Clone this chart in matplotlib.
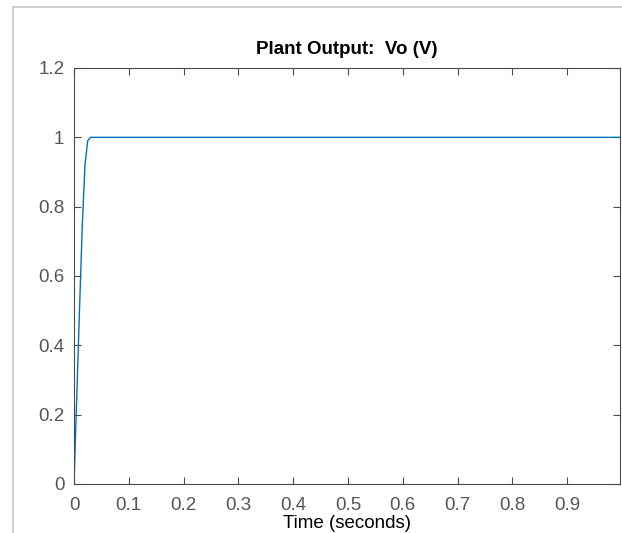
import numpy as np
import matplotlib
matplotlib.use('Agg')
import matplotlib.pyplot as plt
from matplotlib.lines import Line2D

# step response samples (time in s, output in V)
t = [0, 0.005, 0.010, 0.015, 0.020, 0.025, 0.030, 1.0]
vo = [0, 0.25, 0.50, 0.74, 0.92, 0.99, 1.0, 1.0]

xticks = [0, 0.1, 0.2, 0.3, 0.4, 0.5, 0.6, 0.7, 0.8, 0.9]
xticklabels = ['0', '0.1', '0.2', '0.3', '0.4', '0.5', '0.6', '0.7', '0.8', '0.9']
yticks = [0, 0.2, 0.4, 0.6, 0.8, 1, 1.2]
yticklabels = ['0', '0.2', '0.4', '0.6', '0.8', '1', '1.2']

plt.rcParams['font.family'] = ['Liberation Sans', 'DejaVu Sans']

fig = plt.figure(figsize=(6.22, 5.33), dpi=100)
ax = fig.add_axes([74/622, 49/533, 546/622, 416/533])

ax.plot(t, vo, color='#0072BD', lw=1.0)

ax.set_xlim(0, 0.9964)
ax.set_ylim(0, 1.2)
ax.set_xticks(xticks)
ax.set_xticklabels(xticklabels)
ax.set_yticks(yticks)
ax.set_yticklabels(yticklabels)

axcol = '#4a4a4a'
for s in ax.spines.values():
    s.set_color(axcol)
    s.set_linewidth(0.8)
ax.tick_params(direction='in', length=5, width=0.8, color=axcol,
               labelcolor='#555555', labelsize=13.5,
               top=True, right=True)
ax.tick_params(axis='x', pad=9)
ax.tick_params(axis='y', pad=7)

ax.set_title('Plant Output:  Vo (V)', fontsize=13.5, fontweight='bold', pad=10)
ax.set_xlabel('Time (seconds)', fontsize=13.5, color='black', labelpad=1)

# light figure frame on left/top
fig.add_artist(Line2D([12.5/622, 12.5/622], [0, 1 - 6.5/533],
                      transform=fig.transFigure, color='#c8c8c8', lw=1.2))
fig.add_artist(Line2D([12.5/622, 1], [1 - 6.5/533, 1 - 6.5/533],
                      transform=fig.transFigure, color='#c8c8c8', lw=1.2))

fig.savefig('out.png', dpi=100)
